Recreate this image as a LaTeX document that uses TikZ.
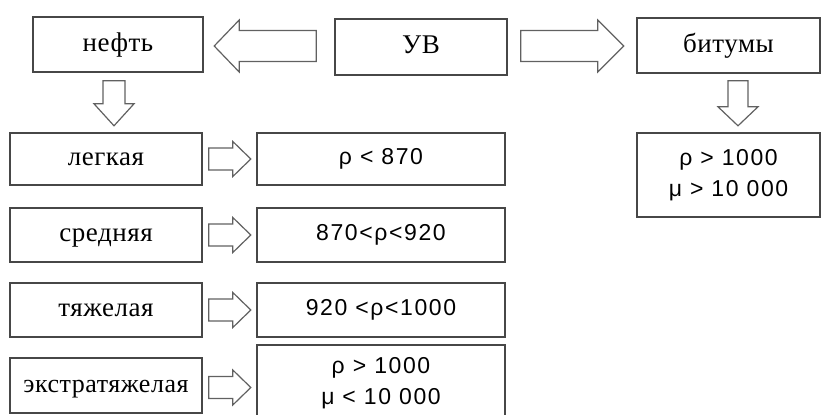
\documentclass[tikz,border=0pt]{standalone}
\usepackage{fontspec}
\setmainfont[LetterSpace=2]{Liberation Serif}
\newfontfamily\formulafont[LetterSpace=7]{Liberation Sans}
\usetikzlibrary{calc}
\begin{document}
\begin{tikzpicture}[x=1pt,y=-1pt,
  box/.style={draw=black!72, line width=1.6pt, fill=white, inner sep=0pt,
    text height=19pt, text depth=6pt,
    font=\fontsize{27}{30}\selectfont},
  formbox/.style={draw=black!72, line width=1.6pt, fill=white, inner sep=0pt,
    align=center, font=\formulafont\fontsize{23}{31}\selectfont},
  arrowline/.style={draw=black!62, line width=1.2pt, fill=white, line join=miter},
  % hollow block arrow: length, head length, shaft width, head width
  pics/blockarrow/.style n args={4}{code={
    \path[arrowline] (0,-#3/2) -- (#1-#2,-#3/2) -- (#1-#2,-#4/2) -- (#1,0)
      -- (#1-#2,#4/2) -- (#1-#2,#3/2) -- (0,#3/2) -- cycle;}}
]
\useasboundingbox[fill=white] (0,0) rectangle (822,415);

% top row
\node[box, minimum width=170, minimum height=55] (neft) at (118,44.5) {нефть};
\node[box, minimum width=172, minimum height=56] (uv) at (421,47) {УВ};
\node[box, minimum width=183, minimum height=55] (bit) at (728.5,45.5) {битумы};
\node[formbox, minimum width=183, minimum height=84] (bitres) at (728.5,175)
  {ρ > 1000\\μ > 10 000};

% oil classes
\node[box, minimum width=192, minimum height=52] (legk) at (106,159) {легкая};
\node[box, minimum width=192, minimum height=54] (sred) at (106,235) {средняя};
\node[box, minimum width=192, minimum height=54] (tyazh) at (106,310) {тяжелая};
\node[box, minimum width=192, minimum height=55, font=\fontsize{26}{30}\selectfont]
  (ekstra) at (106,385.5) {экстратяжелая};

% density ranges
\node[formbox, minimum width=248, minimum height=52] (rho1) at (381,159) {ρ < 870};
\node[formbox, minimum width=248, minimum height=54] (rho2) at (381,235) {870<ρ<920};
\node[formbox, minimum width=248, minimum height=54] (rho3) at (381,310) {920 <ρ<1000};
\node[formbox, minimum width=248, minimum height=76] (rho4) at (381,383)
  {ρ > 1000\\μ < 10 000};

% block arrows
\pic[rotate=180] at ($(uv.west)+(-18,-1)$) {blockarrow={102}{25}{31}{52}};
\pic at ($(uv.east)+(13,-1)$) {blockarrow={103}{26}{31}{52}};
\pic[rotate=-90] at ($(neft.south)+(-4,8)$) {blockarrow={45}{22}{22}{40}};
\pic[rotate=-90] at ($(bit.south)+(9.5,7)$) {blockarrow={45}{19}{20}{40}};
\pic at ($(legk.east)+(6,0)$) {blockarrow={42}{18}{22}{35}};
\pic at ($(sred.east)+(6,0)$) {blockarrow={42}{18}{22}{35}};
\pic at ($(tyazh.east)+(6,0)$) {blockarrow={42}{18}{22}{35}};
\pic at ($(ekstra.east)+(6,2)$) {blockarrow={42}{18}{22}{35}};
\end{tikzpicture}
\end{document}
